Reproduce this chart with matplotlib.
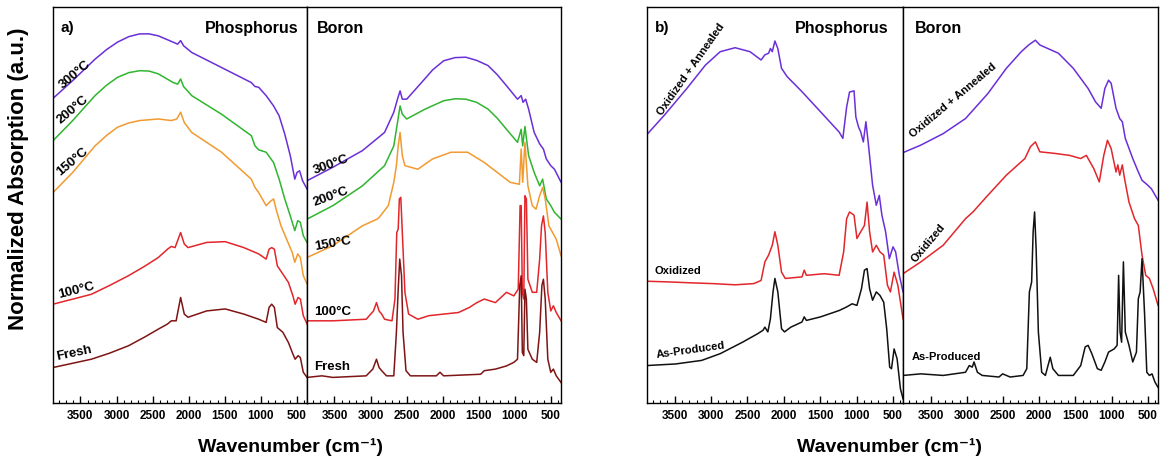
import numpy as np
import matplotlib
matplotlib.use('Agg')
import matplotlib.pyplot as plt
from matplotlib.ticker import MultipleLocator

# ─── Spectra, panel a (annealing series) ─────────────────────────────────────
# Phosphorus-doped
a_p_300_wn = [3880, 3607, 3298, 3140, 2988, 2830, 2679, 2550, 2421, 2215, 2153, 2112, 2071, 1958, 1545,
              1133, 1081, 1030, 927, 824, 747, 669, 592, 530, 499, 463, 422, 360]
a_p_300 = [77.0, 81.5, 86.9, 89.3, 91.2, 92.6, 93.3, 93.3, 92.8, 91.2, 90.7, 91.6, 90.3, 88.6, 84.8,
           81.0, 80.0, 79.8, 77.7, 75.1, 72.6, 68.0, 62.5, 56.6, 58.3, 58.7, 56.2, 54.1]

a_p_200_wn = [3880, 3607, 3298, 3140, 2988, 2830, 2679, 2550, 2421, 2215, 2153, 2112, 2071, 1958, 1545,
              1133, 1081, 1030, 927, 824, 747, 669, 592, 530, 489, 453, 412, 360]
a_p_200 = [66.3, 71.4, 77.7, 80.3, 82.3, 83.5, 84.0, 83.9, 83.2, 81.0, 80.6, 81.9, 80.0, 77.7, 73.0,
           67.6, 65.0, 64.0, 63.4, 60.8, 56.6, 51.6, 47.3, 43.6, 46.1, 45.7, 42.3, 40.6]

a_p_150_wn = [3880, 3607, 3298, 3140, 2988, 2830, 2679, 2421, 2241, 2164, 2112, 2061, 1958, 1545, 1133,
              1081, 1030, 927, 860, 824, 783, 721, 643, 566, 530, 489, 453, 412, 360]
a_p_150 = [53.2, 58.3, 65.0, 67.6, 69.7, 70.8, 71.4, 71.8, 71.4, 71.8, 73.5, 70.9, 68.4, 63.4, 56.6,
           54.5, 53.2, 49.9, 51.1, 51.6, 48.6, 44.8, 41.4, 38.1, 35.6, 37.7, 36.8, 32.2, 30.1]

a_p_100_wn = [3880, 3349, 3100, 2834, 2600, 2421, 2293, 2241, 2189, 2112, 2061, 2009, 1751, 1494, 1236,
              1030, 927, 886, 850, 813, 772, 695, 618, 556, 525, 484, 453, 412, 360]
a_p_100 = [25.0, 27.5, 29.7, 32.2, 34.7, 36.8, 38.9, 39.6, 39.3, 43.1, 40.2, 39.3, 40.6, 40.8, 39.3,
           37.7, 36.4, 38.9, 39.3, 38.9, 34.7, 32.6, 30.5, 27.1, 25.0, 26.7, 26.3, 22.1, 20.0]

a_p_fresh_wn = [3880, 3349, 3100, 2834, 2600, 2421, 2293, 2241, 2174, 2112, 2061, 2009, 1751, 1494, 1236,
                1030, 927, 886, 850, 813, 772, 695, 618, 556, 525, 484, 453, 412, 360]
a_p_fresh = [9.0, 11.1, 12.6, 14.5, 16.8, 18.7, 20.0, 20.8, 20.8, 26.7, 22.5, 21.7, 23.3, 23.8, 22.5,
             21.2, 20.4, 24.2, 25.0, 24.2, 19.1, 17.9, 15.3, 12.4, 11.1, 12.0, 11.5, 7.8, 6.5]

# Boron-doped
a_b_300_wn = [3880, 3522, 3113, 2806, 2678, 2627, 2591, 2560, 2499, 2294, 2140, 1987, 1830, 1680, 1530,
              1373, 1245, 1117, 964, 913, 887, 851, 810, 733, 657, 605, 565, 503, 452, 360]
a_b_300 = [56.2, 59.6, 63.8, 68.4, 73.5, 76.8, 78.9, 76.8, 76.8, 81.0, 84.2, 86.5, 87.3, 87.4, 86.6,
           85.3, 83.0, 80.2, 76.8, 77.7, 76.0, 76.8, 74.3, 68.4, 65.5, 64.2, 61.7, 60.0, 59.1, 55.8]

a_b_200_wn = [3880, 3522, 3113, 2806, 2678, 2627, 2591, 2560, 2499, 2243, 1987, 1830, 1680, 1530, 1373,
              1245, 1117, 964, 913, 892, 861, 810, 733, 657, 616, 565, 503, 452, 360]
a_b_200 = [46.5, 49.9, 54.9, 60.0, 65.0, 70.9, 75.1, 73.0, 71.8, 74.3, 76.4, 76.9, 76.8, 76.0, 74.3,
           72.0, 69.2, 65.9, 69.2, 65.0, 69.9, 62.5, 58.3, 54.9, 56.6, 51.6, 49.9, 48.2, 46.5]

a_b_150_wn = [3880, 3522, 3113, 2908, 2882, 2754, 2678, 2642, 2617, 2591, 2560, 2524, 2345, 2141, 1885,
              1655, 1424, 1245, 1066, 938, 913, 892, 861, 820, 759, 708, 657, 616, 580, 529, 478, 427, 360]
a_b_150 = [36.8, 39.8, 44.8, 46.5, 46.9, 49.9, 55.8, 60.0, 65.0, 68.4, 62.5, 60.0, 59.1, 61.7, 63.4,
           63.4, 60.8, 58.3, 55.8, 55.3, 64.2, 55.8, 65.9, 54.9, 49.9, 49.0, 52.4, 54.5, 51.6, 44.8, 43.1, 41.4, 37.2]

a_b_100_wn = [3880, 3522, 3061, 2959, 2918, 2882, 2846, 2806, 2703, 2662, 2637, 2617, 2601, 2581, 2560,
              2524, 2473, 2345, 2192, 1987, 1782, 1629, 1527, 1424, 1270, 1117, 1015, 954, 928, 913,
              897, 877, 861, 841, 820, 759, 698, 657, 631, 605, 580, 544, 503, 467, 427, 360]
a_b_100 = [20.8, 20.8, 21.2, 23.3, 25.4, 23.3, 22.5, 21.2, 20.8, 26.3, 43.1, 44.0, 51.6, 52.0, 43.1,
           28.0, 22.5, 21.2, 22.1, 22.5, 22.9, 24.2, 25.4, 26.3, 25.4, 28.0, 27.1, 28.8, 49.9, 49.9,
           27.9, 26.3, 52.4, 51.6, 31.3, 28.0, 28.0, 36.4, 44.8, 47.3, 43.1, 28.0, 23.3, 24.6, 22.9, 20.8]

a_b_fresh_wn = [3880, 3675, 3522, 3061, 2969, 2918, 2882, 2846, 2780, 2678, 2642, 2617, 2596, 2571, 2550,
                2509, 2448, 2089, 2038, 1987, 1475, 1424, 1270, 1117, 1015, 964, 933, 913, 897, 877,
                861, 841, 820, 759, 698, 657, 626, 605, 580, 544, 503, 467, 427, 360]
a_b_fresh = [6.5, 6.9, 6.5, 6.9, 8.6, 11.1, 9.0, 8.2, 6.9, 6.9, 17.9, 28.8, 36.4, 32.2, 17.9,
             8.2, 6.9, 6.9, 7.8, 6.9, 7.3, 8.2, 8.6, 9.4, 10.3, 11.1, 29.7, 32.2, 12.8, 12.0,
             28.8, 26.3, 13.6, 11.1, 10.3, 17.9, 29.7, 31.3, 26.3, 11.1, 7.8, 8.6, 6.9, 5.2]

# ─── Spectra, panel b (oxidation series) ─────────────────────────────────────
b_p_oxann_wn = [3880, 3640, 3333, 3078, 2874, 2669, 2465, 2312, 2260, 2209, 2184, 2158, 2122, 2082, 2031,
                1954, 1750, 1494, 1239, 1188, 1136, 1096, 1034, 1009, 973, 942, 906, 871, 840, 779,
                728, 687, 651, 600, 549, 498, 462, 411, 360]
b_p_oxann = [67.9, 72.8, 79.5, 85.4, 88.8, 89.8, 88.8, 86.7, 88.0, 88.4, 89.6, 88.8, 91.5, 89.6, 84.6,
             82.5, 78.7, 73.6, 68.5, 66.9, 74.8, 78.6, 78.9, 72.3, 69.8, 68.5, 66.0, 71.1, 66.0, 55.1,
             50.0, 52.5, 47.5, 43.3, 36.5, 39.5, 38.2, 32.3, 28.1]

b_p_ox_wn = [3880, 3538, 3282, 2976, 2669, 2414, 2312, 2260, 2209, 2158, 2122, 2082, 2031, 1980, 1750,
             1719, 1689, 1443, 1239, 1177, 1136, 1096, 1034, 994, 942, 891, 855, 820, 779, 728,
             677, 626, 575, 534, 483, 432, 360]
b_p_ox = [30.8, 30.6, 30.4, 30.2, 29.9, 30.2, 31.0, 35.7, 37.4, 39.9, 43.3, 39.9, 33.1, 31.5, 31.9,
          33.6, 32.3, 32.7, 32.3, 38.2, 46.6, 48.3, 47.5, 41.6, 43.3, 44.9, 50.8, 43.3, 38.2, 39.9,
          38.2, 37.4, 29.8, 28.1, 33.1, 29.8, 21.3]

b_p_asp_wn = [3880, 3487, 3129, 2874, 2567, 2363, 2286, 2260, 2219, 2184, 2148, 2122, 2082, 2031, 1990,
              1903, 1750, 1719, 1689, 1494, 1239, 1136, 1060, 994, 932, 891, 855, 820, 779, 728,
              677, 626, 585, 544, 519, 483, 442, 396, 360]
b_p_asp = [9.5, 9.9, 10.8, 12.5, 15.4, 17.5, 18.4, 19.2, 18.0, 21.3, 28.1, 31.5, 28.1, 18.8, 18.0,
           19.2, 20.5, 21.8, 20.9, 21.8, 23.4, 24.3, 25.1, 24.7, 28.9, 33.6, 34.0, 28.9, 26.0, 28.1,
           27.2, 25.5, 18.8, 9.1, 8.7, 13.7, 11.2, 3.6, 1.1]

b_b_oxann_wn = [3880, 3634, 3326, 3018, 2710, 2454, 2248, 2146, 2053, 1992, 1735, 1530, 1325, 1222, 1145,
                1094, 1043, 1007, 940, 889, 853, 812, 709, 632, 581, 504, 453, 360]
b_b_oxann = [63.3, 65.2, 68.1, 71.9, 78.2, 84.6, 88.8, 90.5, 91.7, 90.5, 88.4, 84.6, 79.5, 76.1, 74.5,
             79.5, 81.6, 80.8, 74.5, 71.9, 71.1, 66.9, 61.8, 58.4, 56.3, 55.1, 54.2, 51.3]

b_b_ox_wn = [3880, 3634, 3326, 3018, 2915, 2710, 2454, 2198, 2121, 2053, 1992, 1786, 1581, 1427, 1350,
             1248, 1171, 1109, 1058, 1007, 940, 915, 889, 853, 822, 761, 684, 632, 581, 530,
             479, 427, 360]
b_b_ox = [32.7, 35.7, 39.9, 46.6, 48.3, 52.5, 57.6, 61.8, 64.8, 66.0, 63.5, 63.1, 62.6, 61.8, 62.6,
          59.3, 55.9, 62.6, 66.4, 64.3, 58.4, 60.2, 57.6, 60.2, 56.7, 50.8, 46.6, 44.9, 37.4, 32.3,
          31.5, 28.9, 24.7]

b_b_asp_wn = [3880, 3634, 3326, 3018, 2966, 2925, 2900, 2854, 2787, 2556, 2505, 2402, 2223, 2172, 2136,
              2105, 2084, 2064, 2043, 2012, 1966, 1915, 1879, 1848, 1812, 1735, 1530, 1427, 1366, 1325,
              1274, 1197, 1145, 1094, 1043, 966, 925, 904, 884, 863, 838, 812, 761, 709, 658,
              632, 607, 581, 545, 515, 479, 443, 402, 360]
b_b_asp = [7.0, 7.4, 7.0, 7.8, 9.5, 9.1, 10.4, 7.8, 7.0, 6.6, 7.4, 6.6, 7.0, 8.7, 28.1,
           30.6, 43.3, 48.3, 39.0, 18.0, 7.8, 7.0, 9.5, 11.6, 8.7, 7.0, 7.0, 9.5, 14.2, 14.6,
           12.5, 8.7, 8.3, 10.4, 12.9, 13.7, 14.6, 32.3, 18.0, 15.4, 35.7, 18.0, 14.6, 10.4, 12.9,
           26.4, 28.1, 36.5, 22.2, 7.8, 7.0, 7.4, 5.3, 4.0]

# ─── Colours ─────────────────────────────────────────────────────────────────
PURPLE = '#6a2fd8'
GREEN = '#2fb52f'
ORANGE = '#f29a30'
RED = '#e2262b'
DARKRED = '#7e1414'
BLACK = '#111111'

XLIM = (3880, 360)

plt.rcParams.update({
    'font.family': ['Liberation Sans', 'DejaVu Sans'],
    'font.weight': 'bold',
})

fig = plt.figure(figsize=(11.6, 4.64), dpi=100)


def make_axes(rect):
    ax = fig.add_axes(rect)
    ax.set_xlim(*XLIM)
    ax.set_ylim(0, 100)
    ax.xaxis.set_major_locator(MultipleLocator(500))
    ax.xaxis.set_minor_locator(MultipleLocator(100))
    ax.tick_params(axis='x', which='major', direction='in', length=5, width=1,
                   labelsize=8.5, pad=4, top=False)
    ax.tick_params(axis='x', which='minor', direction='in', length=2.5, width=0.8, top=False)
    ax.set_yticks([])
    for lab in ax.get_xticklabels():
        lab.set_fontweight('bold')
    for s in ax.spines.values():
        s.set_linewidth(1.0)
    return ax


bottom, height = 0.129, 0.853
ax_ap = make_axes([0.0457, bottom, 0.219, height])
ax_ab = make_axes([0.2647, bottom, 0.219, height])
ax_bp = make_axes([0.5578, bottom, 0.2207, height])
ax_bb = make_axes([0.7785, bottom, 0.2198, height])

lw = 1.1
for ax, curves in [
    (ax_ap, [(a_p_300_wn, a_p_300, PURPLE), (a_p_200_wn, a_p_200, GREEN), (a_p_150_wn, a_p_150, ORANGE),
             (a_p_100_wn, a_p_100, RED), (a_p_fresh_wn, a_p_fresh, DARKRED)]),
    (ax_ab, [(a_b_300_wn, a_b_300, PURPLE), (a_b_200_wn, a_b_200, GREEN), (a_b_150_wn, a_b_150, ORANGE),
             (a_b_100_wn, a_b_100, RED), (a_b_fresh_wn, a_b_fresh, DARKRED)]),
    (ax_bp, [(b_p_oxann_wn, b_p_oxann, PURPLE), (b_p_ox_wn, b_p_ox, RED), (b_p_asp_wn, b_p_asp, BLACK)]),
    (ax_bb, [(b_b_oxann_wn, b_b_oxann, PURPLE), (b_b_ox_wn, b_b_ox, RED), (b_b_asp_wn, b_b_asp, BLACK)]),
]:
    for wn, absb, col in curves:
        ax.plot(wn, absb, color=col, lw=lw)


# ─── Text ────────────────────────────────────────────────────────────────────
def put(ax, x, y, s, rot=0, size=9, ha='center', va='center'):
    ax.text(x, y, s, transform=ax.transAxes, rotation=rot, fontsize=size,
            fontweight='bold', ha=ha, va=va, rotation_mode='anchor')


put(ax_ap, 0.03, 0.95, 'a)', size=11, ha='left')
put(ax_ap, 0.965, 0.95, 'Phosphorus', size=11.5, ha='right')
put(ax_ab, 0.04, 0.95, 'Boron', size=11.5, ha='left')
put(ax_bp, 0.03, 0.95, 'b)', size=11, ha='left')
put(ax_bp, 0.945, 0.95, 'Phosphorus', size=11.5, ha='right')
put(ax_bb, 0.045, 0.95, 'Boron', size=11.5, ha='left')

put(ax_ap, 0.085, 0.832, '300°C', rot=40, size=9.5)
put(ax_ap, 0.078, 0.743, '200°C', rot=40, size=9.5)
put(ax_ap, 0.078, 0.612, '150°C', rot=40, size=9.5)
put(ax_ap, 0.092, 0.288, '100°C', rot=14, size=9.5)
put(ax_ap, 0.085, 0.128, 'Fresh', rot=12, size=9.5)

put(ax_ab, 0.094, 0.604, '300°C', rot=20, size=9.5)
put(ax_ab, 0.094, 0.524, '200°C', rot=20, size=9.5)
put(ax_ab, 0.10, 0.406, '150°C', rot=10, size=9.5)
put(ax_ab, 0.10, 0.233, '100°C', size=9.5)
put(ax_ab, 0.097, 0.094, 'Fresh', size=9.5)

put(ax_bp, 0.17, 0.846, 'Oxidized + Annealed', rot=55, size=8)
put(ax_bp, 0.119, 0.336, 'Oxidized', size=8)
put(ax_bp, 0.17, 0.137, 'As-Produced', rot=8, size=8)

put(ax_bb, 0.194, 0.766, 'Oxidized + Annealed', rot=40, size=8)
put(ax_bb, 0.099, 0.407, 'Oxidized', rot=50, size=8)
put(ax_bb, 0.169, 0.119, 'As-Produced', size=8)

fig.text(0.25, 0.037, 'Wavenumber (cm⁻¹)', ha='center', va='center',
         fontsize=14, fontweight='bold')
fig.text(0.767, 0.037, 'Wavenumber (cm⁻¹)', ha='center', va='center',
         fontsize=14, fontweight='bold')
fig.text(0.016, 0.615, 'Normalized Absorption (a.u.)', ha='center', va='center',
         rotation=90, fontsize=16, fontweight='bold')

fig.savefig('out.png', dpi=100, facecolor='white')
